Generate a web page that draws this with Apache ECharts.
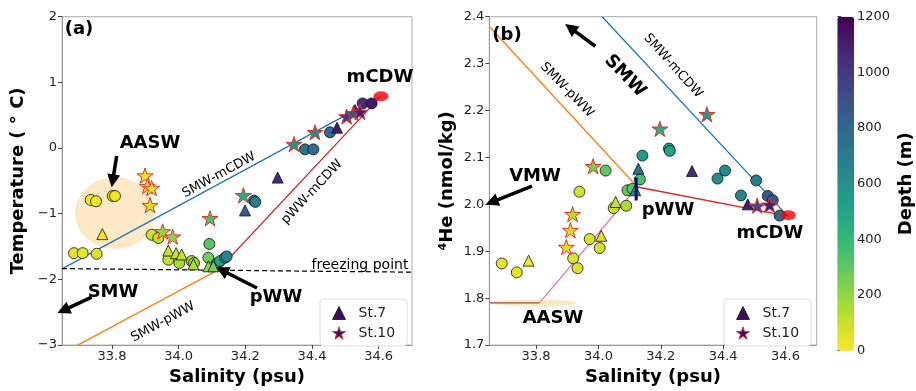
<!DOCTYPE html>
<html>
<head>
<meta charset="utf-8">
<script src="https://cdn.jsdelivr.net/npm/echarts@6/dist/echarts.min.js"></script>
<style>
  html, body { margin: 0; padding: 0; background: #fff; }
  #chart { width: 916px; height: 391px; }
</style>
</head>
<body>
<div id="chart"></div>
<script>
// ---- data: [salinity, value, depth] ----
const tsOther = [
  [33.736, -0.79, 15], [33.752, -0.81, 20], [33.802, -0.73, 25], [33.809, -0.73, 20],
  [33.686, -1.60, 40], [33.712, -1.60, 45], [33.754, -1.61, 60],
  [33.919, -1.32, 90], [33.939, -1.37, 110], [33.969, -1.70, 100], [34.002, -1.75, 160],
  [34.039, -1.72, 150], [34.046, -1.75, 170], [34.092, -1.46, 320], [34.089, -1.67, 260],
  [34.114, -1.76, 430], [34.124, -1.72, 520], [34.139, -1.67, 600], [34.144, -1.65, 650],
  [34.226, -0.80, 660], [34.230, -0.82, 680], [34.379, -0.02, 760], [34.404, -0.02, 780],
  [34.454, 0.24, 800], [34.552, 0.68, 1050], [34.579, 0.68, 1120]
]
const tsSt7 = [
  [33.771, -1.31, 20], [33.969, -1.56, 90], [33.992, -1.60, 100], [34.009, -1.62, 110],
  [34.044, -1.77, 140], [34.089, -1.80, 200], [34.104, -1.80, 260], [34.199, -0.95, 850],
  [34.297, -0.45, 1060], [34.475, 0.31, 1100], [34.529, 0.58, 1100]
]
const tsSt10 = [
  [33.899, -0.42, 20], [33.906, -0.58, 25], [33.919, -0.61, 30], [33.914, -0.87, 80],
  [33.952, -1.27, 190], [33.982, -1.35, 220], [34.094, -1.07, 350], [34.194, -0.72, 450],
  [34.346, 0.06, 560], [34.409, 0.24, 620], [34.504, 0.48, 1000], [34.524, 0.53, 900],
  [34.544, 0.55, 1100]
]
const heOther = [
  [33.690, 1.874, 40], [33.738, 1.855, 40], [33.919, 1.885, 60], [33.933, 1.864, 60],
  [33.972, 1.926, 70], [34.004, 1.907, 80], [33.939, 2.027, 80], [34.049, 1.992, 100],
  [34.089, 1.997, 150], [34.093, 2.030, 300], [34.109, 2.033, 320], [34.133, 2.053, 350],
  [34.023, 2.072, 300], [34.141, 2.104, 550], [34.226, 2.119, 500], [34.229, 2.114, 520],
  [34.382, 2.055, 600], [34.406, 2.072, 620], [34.457, 2.019, 650], [34.506, 2.051, 700],
  [34.543, 2.018, 850], [34.559, 2.009, 870], [34.581, 1.976, 800]
]
const heSt7 = [
  [33.776, 1.880, 20], [34.009, 1.933, 60], [34.055, 2.005, 100], [34.128, 2.076, 760],
  [34.118, 2.030, 650], [34.300, 2.071, 1050], [34.479, 2.000, 1100]
]
const heSt10 = [
  [33.897, 1.909, 40], [33.910, 1.945, 60], [33.917, 1.979, 130], [33.983, 2.081, 250],
  [34.197, 2.161, 450], [34.348, 2.192, 560], [34.509, 1.997, 950], [34.549, 1.999, 1100]
]

// end members and mixing lines
const tsMcdw = [[34.607, 0.79]]
const tsAasw = [[33.809, -0.99]]
const tsSmwMcdw = [[33.65, -1.84], [34.607, 0.79]]
const tsSmwPww = [[33.697, -3.0], [34.12, -1.85]]
const tsPwwMcdw = [[34.12, -1.85], [34.607, 0.79]]
const tsFreezing = [[33.65, -1.835], [34.7, -1.89]]

const heMcdw = [[34.609, 1.977]]
const heAasw = [[33.79, 1.79]]
const heSmwMcdw = [[34.012, 2.4], [34.607, 1.975]]
const heSmwPww = [[33.65, 2.379], [34.125, 2.037]]
const hePwwMcdw = [[34.125, 2.037], [34.607, 1.975]]
const heAaswPww = [[33.811, 1.79], [34.125, 2.037]]
const heAaswEdge = [[33.65, 1.79], [33.811, 1.79]]
const hePwwBar = [[34.121, 2.008], [34.121, 2.057]]

// arrows [tail, tip]
const tsArrows = [
  [[33.814, -0.12], [33.802, -0.50]],
  [[33.739, -2.27], [33.654, -2.47]],
  [[34.235, -2.13], [34.13, -1.86]]
]
const heArrows = [
  [[33.990, 2.337], [33.910, 2.376]],
  [[33.787, 2.039], [33.658, 2.005]]
]

// ticks
const salTicks = [33.8, 34.0, 34.2, 34.4, 34.6]
const tempTicks = [-3, -2, -1, 0, 1, 2]
const heTicks = [1.7, 1.8, 1.9, 2.0, 2.1, 2.2, 2.3, 2.4]
const depthTicks = [0, 200, 400, 600, 800, 1000, 1200]

const viridis = ['#fde725', '#b5de2b', '#6ece58', '#35b779', '#1f9e89',
  '#26828e', '#31688e', '#3e4989', '#482878', '#440154']

function starPath() {
  const pts = []
  for (let i = 0; i < 10; i++) {
    const r = i % 2 ? 0.382 : 1
    const a = -Math.PI / 2 + i * Math.PI / 5
    pts.push((r * Math.cos(a)).toFixed(3) + ' ' + (r * Math.sin(a)).toFixed(3))
  }
  return 'path://M' + pts.join(' L') + ' Z'
}
const STAR = starPath()
const FONT = 'DejaVu Sans'
const STAR_EDGE = '#e2352b'

const minus = (s) => String(s).replace('-', '\u2212')

function pointSeries(name, data, gi, symbol) {
  const isStar = symbol === STAR
  return {
    name: name,
    type: 'scatter',
    xAxisIndex: gi,
    yAxisIndex: gi,
    data: data,
    symbol: symbol,
    symbolSize: isStar ? 16 : 11,
    symbolKeepAspect: true,
    z: 4,
    itemStyle: {
      borderColor: isStar ? STAR_EDGE : '#111',
      borderWidth: isStar ? 1 : 0.8,
      opacity: 1
    }
  }
}

function lineSeries(data, gi, color, extra) {
  return Object.assign({
    type: 'line',
    xAxisIndex: gi,
    yAxisIndex: gi,
    data: data,
    showSymbol: false,
    symbol: 'none',
    silent: true,
    z: 3,
    lineStyle: { color: color, width: 1.3 }
  }, extra || {})
}

function blobSeries(data, gi, color, size, z) {
  return {
    type: 'scatter',
    xAxisIndex: gi,
    yAxisIndex: gi,
    data: data,
    symbol: 'circle',
    symbolSize: size,
    silent: true,
    z: z,
    itemStyle: { color: color }
  }
}

function arrowSeries(arrows, gi) {
  return {
    type: 'line',
    xAxisIndex: gi,
    yAxisIndex: gi,
    data: [],
    z: 6,
    markLine: {
      silent: true,
      animation: false,
      symbol: ['none', 'triangle'],
      symbolSize: 13,
      label: { show: false },
      lineStyle: { color: '#000', width: 3.5, type: 'solid' },
      data: arrows.map(a => [{ coord: a[0] }, { coord: a[1] }])
    }
  }
}

function salAxis(gi) {
  return {
    type: 'value',
    gridIndex: gi,
    min: 33.65,
    max: 34.7,
    name: 'Salinity (psu)',
    nameLocation: 'middle',
    nameGap: 21,
    nameTextStyle: { fontSize: 18, fontWeight: 'bold', color: '#000', verticalAlign: 'top' },
    axisLine: { show: true, onZero: false, lineStyle: { color: '#999' } },
    axisTick: { show: true, customValues: salTicks, length: 4, lineStyle: { color: '#444' } },
    axisLabel: { customValues: salTicks, fontSize: 13, color: '#222', margin: 5, formatter: v => v.toFixed(1) },
    splitLine: { show: false }
  }
}

function legendBox(left) {
  return {
    left: left,
    top: 299,
    orient: 'vertical',
    selectedMode: false,
    itemWidth: 13,
    itemHeight: 13,
    itemGap: 6,
    backgroundColor: '#fff',
    borderColor: '#ddd',
    borderWidth: 1,
    borderRadius: 4,
    padding: [7, 12, 6, 12],
    textStyle: { fontSize: 14, color: '#222', padding: [0, 0, 0, 8] },
    data: [
      { name: 'St.7', icon: 'triangle', itemStyle: { color: '#3e0e5c', borderColor: '#111', borderWidth: 0.8 } },
      { name: 'St.10', icon: STAR, itemStyle: { color: '#3e0e5c', borderColor: STAR_EDGE, borderWidth: 1 } }
    ]
  }
}

function label(text, x, y, opts) {
  opts = opts || {}
  return {
    type: 'text',
    x: x,
    y: y,
    rotation: opts.rot || 0,
    z: 100,
    silent: true,
    style: {
      text: text,
      fontFamily: FONT,
      fontSize: opts.size || 18,
      fontWeight: opts.bold === false ? 'normal' : 'bold',
      fill: '#000',
      align: 'center',
      verticalAlign: 'middle'
    }
  }
}

const chart = echarts.init(document.getElementById('chart'), null, { renderer: 'canvas' })

const option = {
  animation: false,
  backgroundColor: '#fff',
  textStyle: { fontFamily: FONT },
  grid: [
    { left: 62, top: 16.7, width: 350, height: 333.3, show: true, borderColor: '#aaa', borderWidth: 1 },
    { left: 489.3, top: 16.7, width: 327.4, height: 333.3, show: true, borderColor: '#aaa', borderWidth: 1 },
    { left: 837.3, top: 16.7, width: 16.7, height: 334 }
  ],
  xAxis: [
    salAxis(0),
    salAxis(1),
    { type: 'value', gridIndex: 2, min: 0, max: 1, show: false }
  ],
  yAxis: [
    {
      type: 'value',
      gridIndex: 0,
      min: -3,
      max: 2,
      name: 'Temperature ( \u00b0 C)',
      nameLocation: 'middle',
      nameGap: 35,
      nameTextStyle: { fontSize: 18, fontWeight: 'bold', color: '#000' },
      axisLine: { show: true, onZero: false, lineStyle: { color: '#999' } },
      axisTick: { show: true, customValues: tempTicks, length: 4, lineStyle: { color: '#444' } },
      axisLabel: { customValues: tempTicks, fontSize: 13, color: '#222', margin: 5, formatter: v => minus(v) },
      splitLine: { show: false }
    },
    {
      type: 'value',
      gridIndex: 1,
      min: 1.7,
      max: 2.4,
      name: '\u2074He (nmol/kg)',
      nameLocation: 'middle',
      nameGap: 33,
      nameTextStyle: { fontSize: 18, fontWeight: 'bold', color: '#000' },
      axisLine: { show: true, onZero: false, lineStyle: { color: '#999' } },
      axisTick: { show: true, customValues: heTicks, length: 4, lineStyle: { color: '#444' } },
      axisLabel: { customValues: heTicks, fontSize: 13, color: '#222', margin: 5, formatter: v => v.toFixed(1) },
      splitLine: { show: false }
    },
    {
      type: 'value',
      gridIndex: 2,
      position: 'right',
      min: 0,
      max: 1200,
      name: 'Depth (m)',
      nameLocation: 'middle',
      nameGap: 45,
      nameRotate: 90,
      nameTextStyle: { fontSize: 18, fontWeight: 'bold', color: '#000' },
      axisLine: { show: false },
      axisTick: { show: true, customValues: depthTicks, length: 4, lineStyle: { color: '#444' } },
      axisLabel: { customValues: depthTicks, fontSize: 13, color: '#222', margin: 5, formatter: v => String(v) },
      splitLine: { show: false }
    }
  ],
  visualMap: {
    type: 'continuous',
    min: 0,
    max: 1200,
    dimension: 2,
    seriesIndex: [0, 1, 2, 3, 4, 5],
    inRange: { color: viridis },
    left: 837.3,
    top: 16.7,
    itemWidth: 16.7,
    itemHeight: 334,
    padding: 0,
    text: null,
    calculable: false,
    hoverLink: false,
    realtime: false
  },
  legend: [legendBox(320), legendBox(724)],
  series: [
    pointSeries('other', tsOther, 0, 'circle'),
    pointSeries('St.7', tsSt7, 0, 'triangle'),
    pointSeries('St.10', tsSt10, 0, STAR),
    pointSeries('other', heOther, 1, 'circle'),
    pointSeries('St.7', heSt7, 1, 'triangle'),
    pointSeries('St.10', heSt10, 1, STAR),

    // panel (a)
    blobSeries(tsAasw, 0, '#fde3b6', [80, 72], 1),
    lineSeries(tsSmwMcdw, 0, '#1f77b4'),
    lineSeries(tsSmwPww, 0, '#ff7f0e'),
    lineSeries(tsPwwMcdw, 0, '#d62728'),
    lineSeries(tsFreezing, 0, '#000', { lineStyle: { color: '#000', width: 1.2, type: [5, 3] } }),
    blobSeries(tsMcdw, 0, '#ff0000', [15, 10], 5),
    arrowSeries(tsArrows, 0),

    // panel (b)
    blobSeries(heAasw, 1, '#fbe2b4', [88, 7], 1),
    lineSeries(heSmwMcdw, 1, '#1f77b4'),
    lineSeries(heSmwPww, 1, '#ff7f0e'),
    lineSeries(hePwwMcdw, 1, '#d62728'),
    lineSeries(heAaswPww, 1, '#e377c2'),
    lineSeries(heAaswEdge, 1, '#8c564b'),
    lineSeries(hePwwBar, 1, '#0a0a80', { z: 5, lineStyle: { color: '#0a0a80', width: 3 } }),
    blobSeries(heMcdw, 1, '#ff0000', [15, 10], 5),
    arrowSeries(heArrows, 1)
  ],
  graphic: [
    label('(a)', 79, 29),
    label('AASW', 150, 143),
    label('SMW', 113, 292),
    label('pWW', 276, 297),
    label('mCDW', 380, 77),
    label('SMW-mCDW', 219, 175, { size: 13, bold: false, rot: 0.5 }),
    label('pWW-mCDW', 312, 192, { size: 13, bold: false, rot: 0.82 }),
    label('SMW-pWW', 163, 322, { size: 13, bold: false, rot: 0.5 }),
    label('freezing point', 360, 265, { size: 14, bold: false }),

    label('(b)', 507, 35),
    label('SMW', 625, 76, { rot: -0.8 }),
    label('SMW-mCDW', 673, 66, { size: 13, bold: false, rot: -0.84 }),
    label('SMW-pWW', 567, 90, { size: 13, bold: false, rot: -0.8 }),
    label('VMW', 535, 176),
    label('pWW', 668, 210),
    label('mCDW', 770, 233),
    label('AASW', 553, 318)
  ]
}

chart.setOption(option)
</script>
</body>
</html>
